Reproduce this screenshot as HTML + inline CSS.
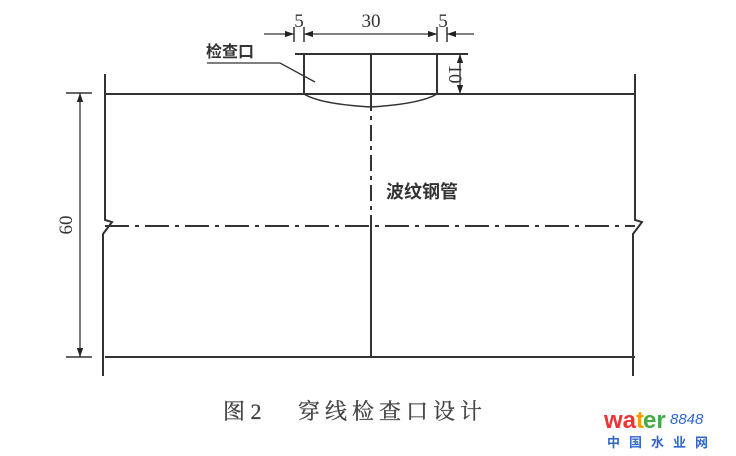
<!DOCTYPE html>
<html><head><meta charset="utf-8"><style>
html,body{margin:0;padding:0;background:#fff;}
svg{display:block}
</style></head><body>
<svg width="736" height="456" viewBox="0 0 736 456" xmlns="http://www.w3.org/2000/svg">
<defs>
<marker id="a" viewBox="0 0 10 10" refX="10" refY="5" markerWidth="9" markerHeight="9" orient="auto-start-reverse" markerUnits="userSpaceOnUse"><path d="M0,1.5 L10,5 L0,8.5 Z" fill="#222"/></marker>
</defs>
<g stroke="#333" stroke-width="2" fill="none">
<line x1="105" y1="94" x2="635" y2="94"/>
<line x1="105" y1="357" x2="635" y2="357"/>
<path d="M105,74 V220 L112,222 L103,234 V376"/>
<path d="M635,74 V220 L642,222 L633,234 V376"/>
<line x1="105" y1="226" x2="635" y2="226" stroke-dasharray="24,6,4,6"/>
<line x1="371" y1="95" x2="371" y2="226" stroke-dasharray="16,5,4,5"/>
<line x1="371" y1="226" x2="371" y2="357"/>
<line x1="295" y1="54" x2="468" y2="54"/>
<line x1="304" y1="54" x2="304" y2="94"/>
<line x1="437" y1="54" x2="437" y2="94"/>
<line x1="371" y1="54" x2="371" y2="100"/>
<path d="M304,94 Q320,104 371,107 Q420,104 437,94" stroke-width="1.5"/>
<path d="M207,63 H280 L315,82" stroke-width="1.3"/>
<line x1="294" y1="27" x2="294" y2="42" stroke-width="1.5"/>
<line x1="304" y1="27" x2="304" y2="42" stroke-width="1.5"/>
<line x1="437" y1="27" x2="437" y2="42" stroke-width="1.5"/>
<line x1="447" y1="27" x2="447" y2="42" stroke-width="1.5"/>
<line x1="264" y1="34" x2="294" y2="34" stroke-width="1.3" marker-end="url(#a)"/>
<line x1="304" y1="34" x2="437" y2="34" stroke-width="1.3" marker-start="url(#a)" marker-end="url(#a)"/>
<line x1="474" y1="34" x2="447" y2="34" stroke-width="1.3" marker-end="url(#a)"/>
<line x1="460" y1="54" x2="460" y2="94" stroke-width="1.3" marker-start="url(#a)" marker-end="url(#a)"/>
<line x1="437" y1="94" x2="468" y2="94" stroke-width="1.3"/>
<line x1="66" y1="93" x2="92" y2="93" stroke-width="1.5"/>
<line x1="66" y1="357" x2="92" y2="357" stroke-width="1.5"/>
<line x1="80" y1="93" x2="80" y2="357" stroke-width="1.3" marker-start="url(#a)" marker-end="url(#a)"/>
</g>
<g font-family="Liberation Serif, serif" fill="#333" font-size="19">
<text x="299" y="27" text-anchor="middle">5</text>
<text x="371" y="27" text-anchor="middle">30</text>
<text x="443" y="27" text-anchor="middle">5</text>
<text transform="translate(449,74) rotate(90)" text-anchor="middle">10</text>
<text transform="translate(72,225) rotate(-90)" text-anchor="middle">60</text>
</g>
<g font-family="Liberation Sans, 'Noto Sans CJK SC', sans-serif" font-weight="bold" fill="#333">
<text x="206" y="57" font-size="16">检查口</text>
<text x="386" y="198" font-size="18">波纹钢管</text>
</g>
<text x="223" y="419" font-family="Liberation Serif, 'Noto Serif CJK SC', serif" font-size="22" fill="#444" stroke="#444" stroke-width="0.3">图 2</text>
<text x="298" y="419" font-family="Liberation Serif, 'Noto Serif CJK SC', serif" font-size="22" letter-spacing="5" fill="#444" stroke="#444" stroke-width="0.3">穿线检查口设计</text>
<g font-family="Liberation Sans, 'Noto Sans CJK SC', sans-serif" font-weight="bold">
<text x="604" y="428" font-size="24" fill="#e33">wa</text>
<text x="636" y="428" font-size="24" fill="#f90">t</text>
<text x="643" y="428" font-size="24" fill="#4a4">er</text>
<text x="670" y="424" font-size="15" font-style="italic" fill="#36c" font-weight="normal">8848</text>
<text x="607" y="447" font-size="13" fill="#36c" letter-spacing="9">中国水业网</text>
</g>
</svg>
</body></html>
